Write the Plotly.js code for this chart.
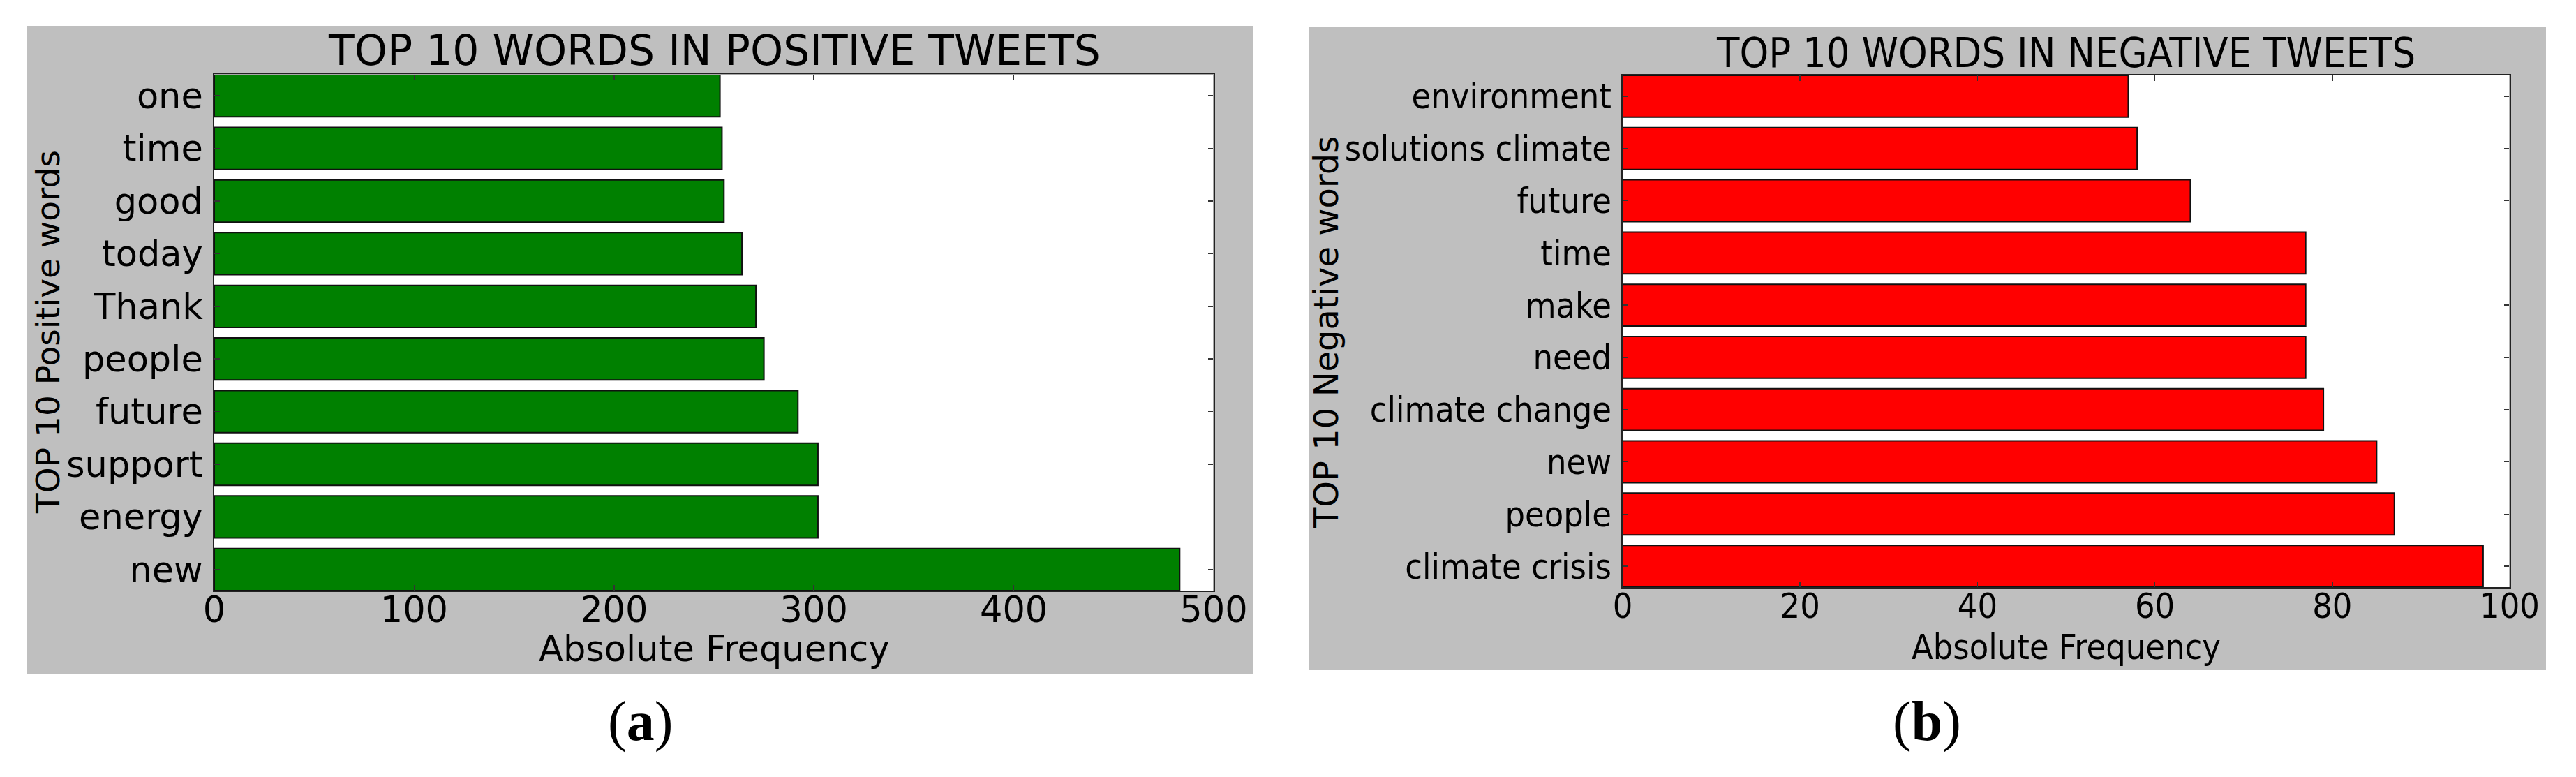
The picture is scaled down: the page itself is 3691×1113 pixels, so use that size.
<!DOCTYPE html>
<html>
<head>
<meta charset="utf-8">
<script src="https://cdn.plot.ly/plotly-3.0.1.min.js"></script>
<style>
  html, body { margin: 0; padding: 0; background: #ffffff; }
  #chart { width: 3691px; height: 1113px; }
</style>
</head>
<body>
<div id="chart"></div>
<script>
// top 10 words, listed bottom -> top as drawn
const posWords = ['new', 'energy', 'support', 'future', 'people', 'Thank', 'today', 'good', 'time', 'one'];
const posCounts = [483, 302, 302, 292, 275, 271, 264, 255, 254, 253];

const negWords = ['climate crisis', 'people', 'new', 'climate change', 'need', 'make', 'time', 'future', 'solutions climate', 'environment'];
const negCounts = [97, 87, 85, 79, 77, 77, 77, 64, 58, 57];

const W = 3691, H = 1113;
const fx = x => x / W;
const fy = y => 1 - y / H;

const FONT = "'DejaVu Sans', sans-serif";
const FONT_C = "'DejaVu Sans Condensed', 'DejaVu Sans', sans-serif";
const GRAY = '#bfbfbf';

// pixel boxes of the two panels
const left = { bg: [39, 1796, 37, 966], plot: [307, 1739, 107, 846] };
const right = { bg: [1875, 3648, 39, 960], plot: [2325, 3596, 108, 841] };

function axisX(p, maxV, step, font, size) {
    return {
        domain: [fx(p.plot[0]), fx(p.plot[1])],
        range: [0, maxV],
        dtick: step,
        ticks: 'inside', ticklen: 8, tickwidth: 1.5, tickcolor: '#333',
        mirror: 'ticks', showline: true, linecolor: '#222', linewidth: 2,
        showgrid: false, zeroline: false, fixedrange: true,
        ticklabelstandoff: -18,
        tickfont: { family: font, size: size, color: '#000' }
    };
}
function axisY(p, font, size, xName) {
    return {
        domain: [fy(p.plot[3]), fy(p.plot[2])],
        type: 'category',
        range: [-0.4, 9.4],
        anchor: xName,
        ticks: 'inside', ticklen: 8, tickwidth: 1.5, tickcolor: '#333',
        mirror: 'ticks', showline: true, linecolor: '#222', linewidth: 2,
        showgrid: false, zeroline: false, fixedrange: true,
        ticklabelstandoff: 4,
        tickfont: { family: font, size: size, color: '#000' }
    };
}

const data = [
    {
        type: 'bar', orientation: 'h',
        x: posCounts, y: posWords,
        width: 0.8,
        marker: { color: '#008000', line: { color: '#111', width: 2 } },
        xaxis: 'x', yaxis: 'y', hoverinfo: 'x+y'
    },
    {
        type: 'bar', orientation: 'h',
        x: negCounts, y: negWords,
        width: 0.8,
        marker: { color: '#ff0000', line: { color: '#111', width: 2 } },
        xaxis: 'x2', yaxis: 'y2', hoverinfo: 'x+y'
    }
];

function rect(b, color) {
    return { type: 'rect', xref: 'paper', yref: 'paper', layer: 'below',
        x0: fx(b[0]), x1: fx(b[1]), y0: fy(b[3]), y1: fy(b[2]),
        fillcolor: color, line: { width: 0 } };
}
function edge(x0, y0, x1, y1, color) {
    return { type: 'line', xref: 'paper', yref: 'paper', layer: 'above',
        x0: fx(x0), y0: fy(y0), x1: fx(x1), y1: fy(y1),
        line: { color: color, width: 2 } };
}

function note(text, x, y, font, size, extra) {
    return Object.assign({
        text: text, xref: 'paper', yref: 'paper',
        x: fx(x), y: fy(y), xanchor: 'center', yanchor: 'middle',
        showarrow: false, font: { family: font, size: size, color: '#000' }
    }, extra || {});
}

const layout = {
    width: W, height: H,
    margin: { l: 0, r: 0, t: 0, b: 0 },
    paper_bgcolor: '#ffffff',
    plot_bgcolor: 'rgba(0,0,0,0)',
    showlegend: false,
    bargap: 0.2,
    xaxis: axisX(left, 500, 100, FONT, 51),
    yaxis: axisY(left, FONT, 51, 'x'),
    xaxis2: Object.assign(axisX(right, 100, 20, FONT_C, 50), { anchor: 'y2' }),
    yaxis2: axisY(right, FONT_C, 50, 'x2'),
    shapes: [
        rect(left.bg, GRAY), rect(right.bg, GRAY),
        rect(left.plot, '#ffffff'), rect(right.plot, '#ffffff'),
        edge(1739, 107, 1739, 846, '#a8a8a8'),
        edge(307, 107, 1739, 107, '#a8a8a8'),
        edge(3596, 108, 3596, 841, '#b4b4b4')
    ],
    annotations: [
        note('TOP 10 WORDS IN POSITIVE TWEETS', 1023, 72, FONT, 60),
        note('TOP 10 WORDS IN NEGATIVE TWEETS', 2960, 76, FONT_C, 59),
        note('Absolute Frequency', 1023, 929, FONT, 51),
        note('Absolute Frequency', 2960, 927, FONT_C, 50),
        note('TOP 10 Positive words', 68, 476, FONT, 47, { textangle: -90 }),
        note('TOP 10 Negative words', 1900, 476, FONT, 48, { textangle: -90 }),
        note('(<b>a</b>)', 917, 1033, "'Liberation Serif', serif", 80),
        note('(<b>b</b>)', 2761, 1033, "'Liberation Serif', serif", 80)
    ]
};

Plotly.newPlot('chart', data, layout, { staticPlot: true });
</script>
</body>
</html>
